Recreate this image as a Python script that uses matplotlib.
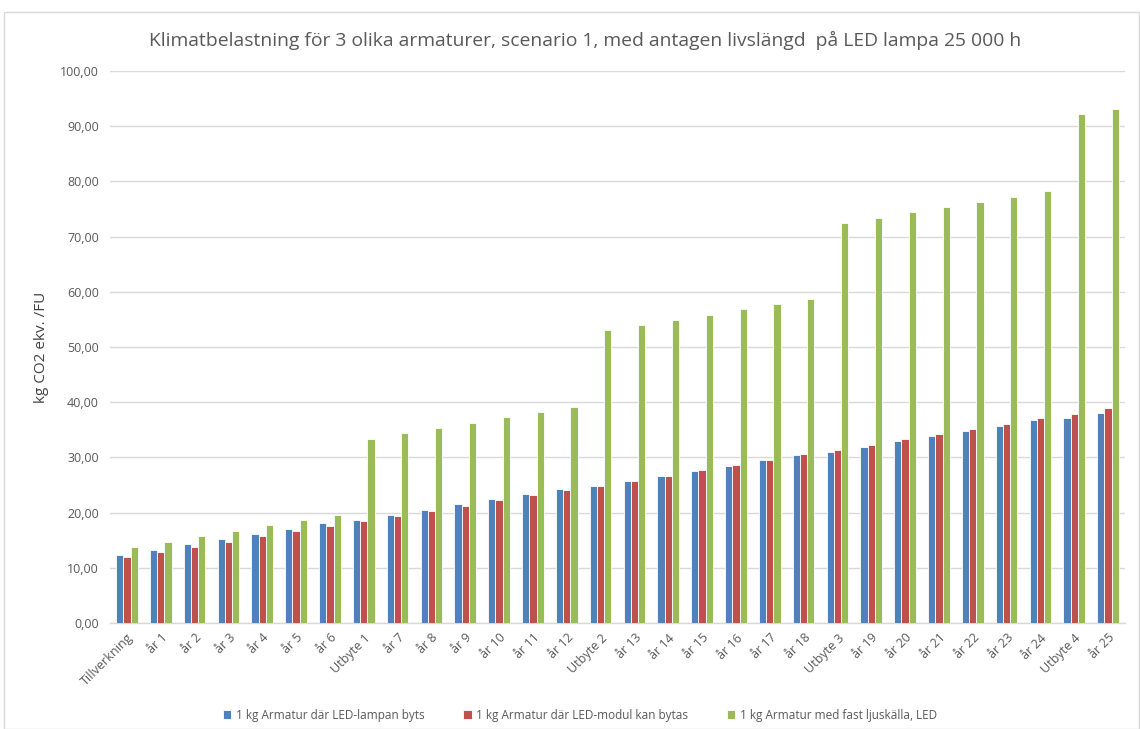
import matplotlib
matplotlib.use("Agg")
import matplotlib.pyplot as plt
import numpy as np
from matplotlib.patches import Rectangle

plt.rcParams['font.family'] = ['Open Sans', 'DejaVu Sans']

categories = ["Tillverkning", "år 1", "år 2", "år 3", "år 4", "år 5", "år 6", "Utbyte 1",
              "år 7", "år 8", "år 9", "år 10", "år 11", "år 12", "Utbyte 2",
              "år 13", "år 14", "år 15", "år 16", "år 17", "år 18", "Utbyte 3",
              "år 19", "år 20", "år 21", "år 22", "år 23", "år 24", "Utbyte 4", "år 25"]

lampan = [12.3, 13.3, 14.3, 15.2, 16.2, 17.1, 18.1, 18.6,
          19.6, 20.5, 21.5, 22.4, 23.4, 24.3, 24.8,
          25.7, 26.6, 27.6, 28.5, 29.5, 30.4, 31.0,
          31.9, 32.9, 33.8, 34.8, 35.7, 36.7, 37.1, 38.0]
modul = [11.9, 12.8, 13.8, 14.7, 15.7, 16.6, 17.5, 18.4,
         19.3, 20.3, 21.2, 22.2, 23.1, 24.1, 24.9,
         25.8, 26.7, 27.7, 28.7, 29.6, 30.6, 31.4,
         32.3, 33.3, 34.2, 35.2, 36.1, 37.1, 37.9, 38.9]
fast = [13.8, 14.7, 15.8, 16.7, 17.7, 18.7, 19.6, 33.4,
        34.4, 35.4, 36.3, 37.3, 38.2, 39.2, 53.0,
        53.9, 54.9, 55.8, 56.8, 57.7, 58.7, 72.5,
        73.4, 74.4, 75.3, 76.3, 77.2, 78.2, 92.2, 93.1]

series_names = ["1 kg Armatur där LED-lampan byts",
                "1 kg Armatur där LED-modul kan bytas",
                "1 kg Armatur med fast ljuskälla, LED"]
colors = ["#4F81BD", "#C0504D", "#9BBB59"]

fig = plt.figure(figsize=(11.4, 7.29), dpi=100)
fig.patches.append(Rectangle((4/1140, 0), 1 - 4/1140 - 0.001, 1 - 12/729, transform=fig.transFigure,
                             fill=False, edgecolor="#D9D9D9", linewidth=1))
ax = fig.add_axes([110/1140, (729-623)/729, (1125-110)/1140, (623-71)/729])

x = np.arange(len(categories))
w = 0.215
for i, (vals, c, name) in enumerate(zip([lampan, modul, fast], colors, series_names)):
    ax.bar(x + (i - 1) * w, vals, width=w, color=c, edgecolor="white", linewidth=0.6, label=name, zorder=3)

ax.set_xlim(-0.5, len(categories) - 0.5)
ax.set_ylim(0, 100)
ax.set_yticks(np.arange(0, 101, 10))
ax.set_yticklabels([f"{v:.2f}".replace(".", ",") for v in np.arange(0, 101, 10)], fontsize=9, color="#595959")
ax.set_xticks(x)
ax.set_xticklabels(categories, rotation=45, ha="right", rotation_mode="anchor", fontsize=9, color="#595959")
ax.tick_params(axis="both", length=0)
ax.tick_params(axis="y", pad=8)
ax.tick_params(axis="x", pad=6)
ax.grid(axis="y", color="#D9D9D9", linewidth=1, zorder=0)
for s in ["top", "right", "left"]:
    ax.spines[s].set_visible(False)
ax.spines["bottom"].set_color("#D9D9D9")
ax.spines["bottom"].set_linewidth(1)
ax.set_ylabel("kg CO2 ekv. /FU", fontsize=11, color="#404040", labelpad=8)

fig.text(585/1140, 1 - 40/729, "Klimatbelastning för 3 olika armaturer, scenario 1, med antagen livslängd  på LED lampa 25 000 h",
         ha="center", va="center", fontsize=13.9, color="#595959")

fig.legend(loc="center", bbox_to_anchor=(580/1140, 1 - 715/729), ncol=3, frameon=False,
           fontsize=8.5, labelcolor="#595959", handlelength=0.7, handleheight=0.7, handletextpad=0.4,
           columnspacing=3.3)

fig.savefig("out.png", dpi=100)
